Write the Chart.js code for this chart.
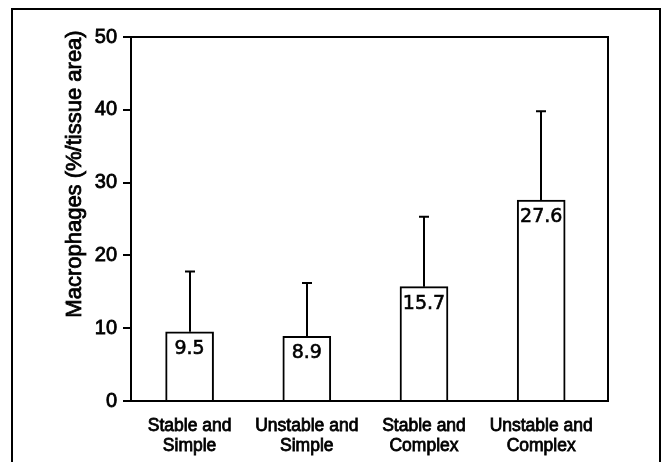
<!DOCTYPE html>
<html>
<head>
<meta charset="utf-8">
<script src="https://cdn.jsdelivr.net/npm/chart.js@4.4.0/dist/chart.umd.min.js"></script>
<style>
  html, body { margin: 0; padding: 0; background: #fff; }
</style>
</head>
<body>
<canvas id="chart" width="665" height="462"></canvas>
<script>
const categories = [['Stable and', 'Simple'], ['Unstable and', 'Simple'], ['Stable and', 'Complex'], ['Unstable and', 'Complex']]
const means = [9.5, 8.9, 15.7, 27.6]
const errorTops = [17.8, 16.2, 25.3, 39.8]
const valueLabels = ['9.5', '8.9', '15.7', '27.6']
const yTicks = [0, 10, 20, 30, 40, 50]

const TEXT_FONT = '"Liberation Sans", Arial, sans-serif'
// a thin stroke over regular glyphs gives the medium weight of the original
const MEDIUM = 0.8

// frame, plot box, error bars, value labels and the y title
const extras = {
  id: 'extras',
  afterDatasetsDraw(chart) {
    const ctx = chart.ctx
    const x = chart.scales.x
    const y = chart.scales.y
    const area = chart.chartArea

    ctx.save()
    ctx.strokeStyle = '#000'
    ctx.fillStyle = '#000'

    // error bars (upper only)
    ctx.lineWidth = 2
    means.forEach((m, i) => {
      const px = Math.round(x.getPixelForValue(i))
      const y0 = y.getPixelForValue(m)
      const y1 = y.getPixelForValue(errorTops[i])
      ctx.beginPath()
      ctx.moveTo(px, y0)
      ctx.lineTo(px, y1)
      ctx.moveTo(px - 5, y1)
      ctx.lineTo(px + 5, y1)
      ctx.stroke()
    })

    // plot box
    ctx.strokeRect(area.left, area.top, area.right - area.left, area.bottom - area.top)

    // outer frame
    ctx.strokeRect(12, 9, 648, 470)

    // value labels inside the bars
    ctx.font = '19px "DejaVu Sans", sans-serif'
    ctx.textAlign = 'center'
    ctx.textBaseline = 'alphabetic'
    ctx.lineWidth = 0.6
    means.forEach((m, i) => {
      const px = x.getPixelForValue(i)
      const py = y.getPixelForValue(m) + 22
      ctx.fillText(valueLabels[i], px, py)
      ctx.strokeText(valueLabels[i], px, py)
    })

    // y title
    ctx.translate(81, 174)
    ctx.rotate(-Math.PI / 2)
    ctx.font = '22px ' + TEXT_FONT
    ctx.lineWidth = MEDIUM
    ctx.fillText('Macrophages (%/tissue area)', 0, 0)
    ctx.strokeText('Macrophages (%/tissue area)', 0, 0)
    ctx.restore()
  }
}

new Chart(document.getElementById('chart'), {
  type: 'bar',
  data: {
    datasets: [{
      data: means.map((m, i) => ({x: i, y: m})),
      backgroundColor: '#fff',
      borderColor: '#000',
      borderWidth: 2,
      barThickness: 48
    }]
  },
  options: {
    responsive: false,
    animation: false,
    events: [],
    layout: {padding: {left: 12, top: 37, right: 57, bottom: 0}},
    plugins: {legend: {display: false}, tooltip: {enabled: false}},
    scales: {
      x: {
        type: 'linear',
        offset: false,
        min: -0.5,
        max: 3.57,
        afterBuildTicks: (s) => { s.ticks = categories.map((c, i) => ({value: i})) },
        afterFit: (s) => { s.height = 61 },
        grid: {display: false, drawTicks: false},
        border: {display: true, color: '#000', width: 2},
        ticks: {
          callback: (v) => categories[Math.round(v)],
          color: '#000',
          textStrokeColor: '#000',
          textStrokeWidth: MEDIUM,
          padding: 15,
          maxRotation: 0,
          autoSkip: false,
          font: {family: TEXT_FONT, size: 17.5, lineHeight: 1.14}
        }
      },
      y: {
        min: 0,
        max: 50,
        afterBuildTicks: (s) => { s.ticks = yTicks.map(v => ({value: v})) },
        afterFit: (s) => { s.width = 119 },
        grid: {drawOnChartArea: false, drawTicks: true, tickLength: 8, color: '#000', lineWidth: 2},
        border: {display: true, color: '#000', width: 2},
        ticks: {
          color: '#000',
          textStrokeColor: '#000',
          textStrokeWidth: MEDIUM,
          padding: 6,
          font: {family: TEXT_FONT, size: 20}
        }
      }
    }
  },
  plugins: [extras]
})
</script>
</body>
</html>
